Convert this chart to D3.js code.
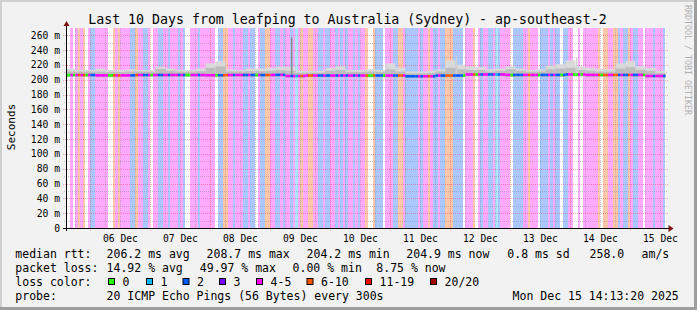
<!DOCTYPE html>
<html><head><meta charset="utf-8">
<script src="https://cdn.jsdelivr.net/npm/d3@7"></script>
<style>
html,body{margin:0;padding:0;background:#f2f2f2;}
svg{display:block;}
text{font-family:"DejaVu Sans Mono",monospace;}
</style></head><body>
<svg id="chart" width="697" height="310"></svg>
<script>
// ---------------- DATA ----------------
const title = "Last 10 Days from leafping to Australia (Sydney) - ap-southeast-2";
const yLabel = "Seconds";
const watermark = "RRDTOOL / TOBI OETIKER";
const startTime = Date.UTC(2025, 11, 5, 14, 13, 20);
const endTime = Date.UTC(2025, 11, 15, 14, 13, 20);
const firstBin = Date.UTC(2025, 11, 5, 14, 0, 0);   // hourly consolidated bins
const yTicks = [0, 20, 40, 60, 80, 100, 120, 140, 160, 180, 200, 220, 240, 260]; // ms
const yMax = 269.7; // ms at top of canvas

// lost pings (of 20) per hourly bin, 240 bins
const lossPerHour = [
  0,0,4,0,4,7,4,7,0,4,2,2,4,4,4,4,4,0,0,7,4,7,4,4,
  4,4,2,2,7,4,4,2,2,4,0,4,4,2,2,4,4,2,4,4,4,2,4,2,
  0,0,4,4,4,2,4,4,4,4,4,4,0,2,2,7,7,4,4,2,4,4,4,2,
  2,4,2,2,0,4,2,2,7,7,4,4,2,2,4,2,4,4,2,4,1,4,7,4,
  4,7,7,4,4,2,2,4,2,2,4,4,2,4,2,4,2,4,4,2,4,2,4,4,
  7,0,0,7,2,2,2,0,4,4,4,2,2,7,7,4,2,2,2,2,2,4,2,4,
  4,7,4,2,2,4,2,2,7,7,7,2,2,2,2,0,4,4,4,7,0,4,2,4,
  4,2,2,4,1,2,4,4,4,4,0,2,2,2,2,4,4,7,4,4,4,0,2,2,
  2,4,2,4,2,2,0,2,2,4,4,0,0,4,0,4,4,4,4,4,4,7,0,7,
  7,4,4,7,7,2,4,2,2,7,4,2,2,4,4,0,4,4,4,2,4,4,4,2
];

// 4-hour blocks (60): median rtt, smoke low, smoke upper-band, smoke max (ms)
const medianRtt = [
  206.3,206.3,206.3,205.8,205.8,205.8,205.8,206.3,206.3,206.3,
  206.3,206.3,206.3,206.3,206.0,206.0,206.3,206.3,206.3,206.3,
  206.3,206.5,205.0,205.0,205.6,205.6,205.6,205.6,205.6,205.6,
  205.6,205.6,205.6,205.6,204.6,204.6,204.6,205.6,205.6,205.6,
  207.0,207.0,207.0,207.0,206.4,206.4,206.4,206.4,206.4,206.4,
  207.0,207.0,206.4,206.4,206.4,206.4,206.4,206.4,205.0,205.0
];
const smokeLow = [
  203.8,203.8,203.8,203.3,203.3,203.3,203.3,203.8,203.8,203.8,
  203.8,203.8,203.8,203.8,203.5,203.5,203.8,203.8,203.8,203.8,
  203.8,204.0,202.5,202.5,203.1,203.1,203.1,203.1,203.1,203.1,
  203.1,203.1,203.1,203.1,202.1,202.1,202.1,203.1,203.1,203.1,
  204.5,204.5,204.5,204.5,203.9,203.9,203.9,203.9,203.9,203.9,
  204.5,204.5,203.9,203.9,203.9,203.9,203.9,203.9,202.5,202.5
];
const smokeUpper = [
  211,211,211,211,210.5,210.5,211,211,211,214.5,
  212,211,211,211.5,216,218,211,211,211.5,211.5,
  212,213,212,209.5,209.5,209.5,212,213,210.5,210.5,
  211,210.5,214,211,208.5,208.5,209,211,216,214,
  213,213,211,212,214,212,211,211,214,215,
  216,213,212,211,211,215,217,213,212,209
];
const smokeMax = [
  215,213,213,215,213,213,214,213,213,217.5,
  215,213,213,215,222,225,214,213,215,215,
  216,217.5,217,212,212,212,216,218,213,213,
  214,213,222,216,211,211,212,214,226,220,
  218,217,214,215,218,215,213,214,219,221,
  226,218,216,214,214,222,225,218,216,212
];
// isolated hourly spikes: bin index and max (ms)
const spikeBins = [90, 156, 204];
const spikeMax = [257, 231, 230];

// loss legend
const lossLabels = ["0", "1", "2", "3", "4-5", "6-10", "11-19", "20/20"];
const lossUpper = [0, 1, 2, 3, 5, 10, 19, 20];
const lossColors = ["#26ff00", "#00b8ff", "#0059ff", "#7e00ff", "#ff00ff", "#ff5500", "#ff0000", "#a10000"];

// legend text
const rowMedian = ["median rtt:", "206.2 ms avg", "208.7 ms max", "204.2 ms min", "204.9 ms now", "0.8 ms sd", "258.0", "am/s"];
const rowLoss = ["packet loss:", "14.92 % avg", "49.97 % max", "0.00 % min", "8.75 % now"];
const rowColorLabel = "loss color:";
const rowProbe = ["probe:", "20 ICMP Echo Pings (56 Bytes) every 300s", "Mon Dec 15 14:13:20 2025"];

// ---------------- LAYOUT ----------------
const W = 697, H = 310;
const L = 66, R = 666, T = 28, B = 228;
const svg = d3.select("#chart");

// frame
svg.append("rect").attr("x",0).attr("y",0).attr("width",W).attr("height",H).attr("fill","#f2f2f2");
svg.append("rect").attr("x",0).attr("y",0).attr("width",W).attr("height",2).attr("fill","#cfcfcf");
svg.append("rect").attr("x",0).attr("y",0).attr("width",2).attr("height",H).attr("fill","#cfcfcf");
svg.append("rect").attr("x",0).attr("y",H-3).attr("width",W).attr("height",3).attr("fill","#9e9e9e");
svg.append("rect").attr("x",W-3).attr("y",0).attr("width",3).attr("height",H).attr("fill","#9e9e9e");

const x = d3.scaleUtc().domain([startTime, endTime]).range([L, R]);
const y = d3.scaleLinear().domain([0, yMax]).range([B, T]);

// canvas
svg.append("rect").attr("x",L).attr("y",T).attr("width",R-L).attr("height",B-T).attr("fill","#ffffff");
svg.append("clipPath").attr("id","cv").append("rect").attr("x",L).attr("y",T).attr("width",R-L).attr("height",B-T);
const g = svg.append("g").attr("clip-path","url(#cv)");

const HOUR = 3600e3;
function cat(loss){ for (let k=0;k<lossUpper.length;k++) if (loss<=lossUpper[k]) return k; return lossUpper.length-1; }
const bins = lossPerHour.map((loss, i) => ({ i, loss, x0: x(firstBin + i*HOUR), x1: x(firstBin + (i+1)*HOUR) }));

// loss background stripes
g.append("g").selectAll("rect").data(bins.filter(b => b.loss > 0)).join("rect")
  .attr("x", b => b.x0).attr("width", b => b.x1 - b.x0 + 0.05)
  .attr("y", T).attr("height", B-T)
  .attr("fill", b => lossColors[cat(b.loss)]).attr("fill-opacity", 0.335)
  .attr("shape-rendering","crispEdges");

// grid
const grid = svg.append("g");
const minorY = d3.range(10, yMax, 10).filter(v => v % 20 !== 0);
grid.selectAll("line.my").data(minorY).join("line")
  .attr("x1", L-2).attr("x2", R+2).attr("y1", d => Math.round(y(d))+0.5).attr("y2", d => Math.round(y(d))+0.5)
  .attr("stroke","rgba(128,128,128,0.4)").attr("stroke-dasharray","1,1");
grid.selectAll("line.My").data(yTicks.filter(v=>v>0)).join("line")
  .attr("x1", L-3).attr("x2", R+2).attr("y1", d => Math.round(y(d))+0.5).attr("y2", d => Math.round(y(d))+0.5)
  .attr("stroke","rgba(255,0,0,0.3)").attr("stroke-dasharray","1,1");
const sixH = d3.utcHour.every(6).range(new Date(startTime), new Date(endTime));
grid.selectAll("line.vx").data(sixH).join("line")
  .attr("x1", d => Math.round(x(d))+0.5).attr("x2", d => Math.round(x(d))+0.5)
  .attr("y1", T).attr("y2", d => d.getUTCHours()===0 ? B+3 : B+2)
  .attr("stroke", d => d.getUTCHours()===0 ? "rgba(255,0,0,0.3)" : "rgba(128,128,128,0.4)")
  .attr("stroke-dasharray","1,1");

// smoke
const gs = svg.append("g").attr("clip-path","url(#cv)");
const blk = i => [x(firstBin + i*4*HOUR), x(firstBin + (i+1)*4*HOUR)];
gs.selectAll("rect.sm").data(smokeMax).join("rect")
  .attr("x", (d,i)=>blk(i)[0]).attr("width", (d,i)=>blk(i)[1]-blk(i)[0]+0.05)
  .attr("y", d=>y(d)).attr("height", (d,i)=>y(smokeLow[i])-y(d))
  .attr("fill","#d9d9d9");
gs.selectAll("rect.su").data(smokeUpper).join("rect")
  .attr("x", (d,i)=>blk(i)[0]).attr("width", (d,i)=>blk(i)[1]-blk(i)[0]+0.05)
  .attr("y", d=>y(d)).attr("height", (d,i)=>y(smokeLow[i])-y(d))
  .attr("fill","#bdbdbd");
gs.selectAll("rect.sp").data(spikeBins).join("rect")
  .attr("x", d=>x(firstBin + d*HOUR)+0.5).attr("width", d=>x(firstBin+(d+1)*HOUR)-x(firstBin+d*HOUR)-1)
  .attr("y", (d,i)=>y(spikeMax[i])).attr("height", (d,i)=>y(medianRtt[Math.floor(d/4)])-y(spikeMax[i]))
  .attr("fill", (d,i)=> i===0 ? "#8c8c8c" : "#d0d0d0");

// median line coloured by loss
gs.selectAll("rect.md").data(bins).join("rect")
  .attr("x", b => b.x0).attr("width", b => b.x1 - b.x0 + 0.05)
  .attr("y", b => y(medianRtt[Math.floor(b.i/4)]) - 1.3)
  .attr("height", 2.6)
  .attr("fill", b => lossColors[cat(b.loss)]);

// axes
const ax = svg.append("g");
ax.append("line").attr("x1",L-3).attr("x2",R+4).attr("y1",B+0.5).attr("y2",B+0.5).attr("stroke","#000");
ax.append("line").attr("x1",L+0.5).attr("x2",L+0.5).attr("y1",B+3).attr("y2",T-2).attr("stroke","#000");
ax.append("path").attr("d",`M${R+2.5},${B-3} L${R+7.5},${B+0.5} L${R+2.5},${B+4} Z`).attr("fill","#7f1010");
ax.append("path").attr("d",`M${L-2.5},${T-2} L${L+0.5},${T-7} L${L+3.5},${T-2} Z`).attr("fill","#7f1010");

// y tick labels
svg.append("g").selectAll("text").data(yTicks).join("text")
  .attr("x", 60).attr("y", d => y(d) + 3.5)
  .attr("text-anchor","end").attr("font-size","9.7px").attr("fill","#000")
  .text(d => d===0 ? "0" : d + " m");

// x labels at noon
const noons = d3.utcDay.range(new Date(startTime), new Date(endTime)).map(d => new Date(+d + 12*HOUR)).filter(d => +d < endTime);
const fmt = d3.utcFormat("%d %b");
svg.append("g").selectAll("text").data(noons).join("text")
  .attr("x", d => x(d)).attr("y", 241.5).attr("text-anchor","middle")
  .attr("font-size","9.7px").attr("fill","#000").text(d => fmt(d));

// title
svg.append("text").attr("x", 347.5).attr("y", 23.8).attr("text-anchor","middle")
  .attr("font-size","13.25px").attr("fill","#000").text(title);
// y label
svg.append("text").attr("transform","translate(15,127) rotate(-90)").attr("text-anchor","middle")
  .attr("font-size","11px").attr("fill","#000").text(yLabel);
// watermark
svg.append("text").attr("transform","translate(685,5) rotate(90)").attr("text-anchor","start")
  .attr("font-size","8.3px").attr("fill","#b0b0b0").text(watermark);

// legend
const lg = svg.append("g").attr("font-size","11.5px").attr("fill","#000");
const row1X = [15.3, 106.6, 206.6, 306.6, 406.3, 507.3, 589.6, 641.6];
rowMedian.forEach((t,i)=> lg.append("text").attr("x",row1X[i]).attr("y",257.5).text(t));
const row2X = [15.3, 106.6, 199.8, 292.6, 376.3];
rowLoss.forEach((t,i)=> lg.append("text").attr("x",row2X[i]).attr("y",271.5).text(t));
lg.append("text").attr("x",15.3).attr("y",285.5).text(rowColorLabel);
const sqX = [108, 146, 182.5, 219, 256, 306.5, 365, 430];
lossLabels.forEach((t,i)=>{
  lg.append("rect").attr("x",sqX[i]+0.5).attr("y",278.5).attr("width",6).attr("height",6)
    .attr("fill",lossColors[i]).attr("stroke","#000").attr("stroke-width",1);
  lg.append("text").attr("x",sqX[i]+14.6).attr("y",285.5).text(t);
});
const row4X = [15.3, 106.6, 512.6];
rowProbe.forEach((t,i)=> lg.append("text").attr("x",row4X[i]).attr("y",299.5).text(t));
</script>
</body></html>
